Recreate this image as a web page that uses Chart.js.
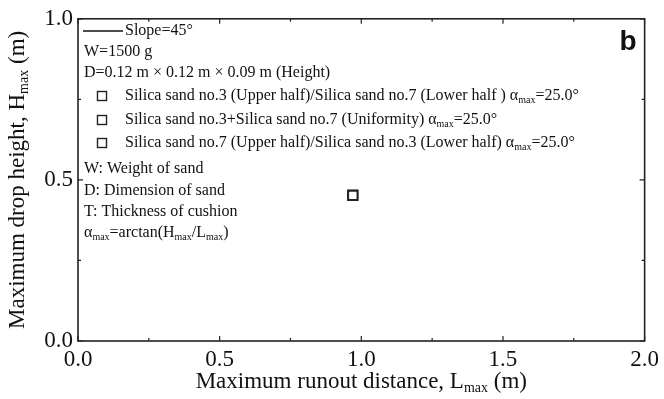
<!DOCTYPE html>
<html>
<head>
<meta charset="utf-8">
<script src="https://cdn.jsdelivr.net/npm/chart.js@4.4.1/dist/chart.umd.min.js"></script>
<style>
  html, body { margin: 0; padding: 0; background: #fff; }
  #wrap { width: 664px; height: 399px; }
</style>
</head>
<body>
<div id="wrap"><canvas id="c" width="664" height="399"></canvas></div>
<script>
// Maximum runout distance L_max (m) and maximum drop height H_max (m), one entry per sand arrangement
const runoutL = [0.97, 0.97, 0.97];
const dropH = [0.452, 0.452, 0.452];
const alphaMax = [25.0, 25.0, 25.0];
const seriesNames = [
  'Silica sand no.3 (Upper half)/Silica sand no.7 (Lower half ) ',
  'Silica sand no.3+Silica sand no.7 (Uniformity) ',
  'Silica sand no.7 (Upper half)/Silica sand no.3 (Lower half) '
];
const xTicks = [0.0, 0.5, 1.0, 1.5, 2.0];
const yTicks = [0.0, 0.5, 1.0];
const headerNotes = ['W=1500 g', 'D=0.12 m \u00d7 0.12 m \u00d7 0.09 m (Height)'];
const footerNotes = ['W: Weight of sand', 'D: Dimension of sand', 'T: Thickness of cushion'];

const SERIF = '"Liberation Serif", "Times New Roman", serif';
const INK = '#111';

function font(size) { return size + 'px ' + SERIF; }

// draws text made of normal and subscript pieces, vertically centred on y
function drawRich(ctx, segs, x, y, size, align) {
  let total = 0;
  segs.forEach(s => {
    ctx.font = font(s.sub ? Math.round(size * 0.62) : size);
    s.w = ctx.measureText(s.t).width;
    total += s.w;
  });
  let cx = align === 'center' ? x - total / 2 : x;
  ctx.textAlign = 'left';
  ctx.textBaseline = 'middle';
  segs.forEach(s => {
    ctx.font = font(s.sub ? Math.round(size * 0.62) : size);
    ctx.fillText(s.t, cx, y + (s.sub ? size * 0.28 : 0));
    cx += s.w;
  });
  return total;
}

const framePlugin = {
  id: 'frame',
  afterDraw(chart) {
    const ctx = chart.ctx;
    const a = chart.chartArea;
    const xs = chart.scales.x, ys = chart.scales.y;
    ctx.save();
    ctx.strokeStyle = '#222';
    ctx.lineWidth = 1.6;
    ctx.strokeRect(a.left, a.top, a.right - a.left, a.bottom - a.top);
    // inward ticks on all four sides
    ctx.lineWidth = 1.2;
    ctx.beginPath();
    for (let v = 0; v <= 2.0001; v += 0.25) {
      const px = xs.getPixelForValue(v);
      const len = Math.abs(v / 0.5 - Math.round(v / 0.5)) < 1e-6 ? 5 : 3;
      ctx.moveTo(px, a.bottom); ctx.lineTo(px, a.bottom - len);
      ctx.moveTo(px, a.top); ctx.lineTo(px, a.top + len);
    }
    for (let v = 0; v <= 1.0001; v += 0.25) {
      const py = ys.getPixelForValue(v);
      const len = Math.abs(v / 0.5 - Math.round(v / 0.5)) < 1e-6 ? 5 : 3;
      ctx.moveTo(a.left, py); ctx.lineTo(a.left + len, py);
      ctx.moveTo(a.right, py); ctx.lineTo(a.right - len, py);
    }
    ctx.stroke();

    ctx.fillStyle = INK;
    // axis titles
    drawRich(ctx, [{t: 'Maximum runout distance, L'}, {t: 'max', sub: true}, {t: ' (m)'}],
      (a.left + a.right) / 2, 382, 23, 'center');
    ctx.save();
    ctx.translate(18, (a.top + a.bottom) / 2);
    ctx.rotate(-Math.PI / 2);
    drawRich(ctx, [{t: 'Maximum drop height, H'}, {t: 'max', sub: true}, {t: ' (m)'}], 0, 0, 23, 'center');
    ctx.restore();

    // panel letter
    ctx.font = 'bold 28px "Liberation Sans", Arial, sans-serif';
    ctx.textAlign = 'right';
    ctx.textBaseline = 'alphabetic';
    ctx.fillText('b', a.right - 8, a.top + 31);

    // key and notes
    const fs = 16;
    const lx = a.left + 6;
    ctx.strokeStyle = INK;
    ctx.lineWidth = 1.5;
    ctx.beginPath();
    ctx.moveTo(lx - 1, 31); ctx.lineTo(lx + 39, 31);
    ctx.stroke();
    drawRich(ctx, [{t: 'Slope=45\u00b0'}], lx + 41, 31, fs, 'left');
    drawRich(ctx, [{t: headerNotes[0]}], lx, 52, fs, 'left');
    drawRich(ctx, [{t: headerNotes[1]}], lx, 73, fs, 'left');
    const rowY = [96, 120, 143];
    seriesNames.forEach((name, i) => {
      ctx.lineWidth = 1.4;
      ctx.strokeStyle = '#222';
      ctx.strokeRect(lx + 13.5, rowY[i] - 4.5, 9, 9);
      drawRich(ctx, [{t: name + '\u03b1'}, {t: 'max', sub: true}, {t: '=' + alphaMax[i].toFixed(1) + '\u00b0'}],
        lx + 41, rowY[i], fs, 'left');
    });
    const noteY = [169, 191, 212];
    footerNotes.forEach((n, i) => drawRich(ctx, [{t: n}], lx, noteY[i], fs, 'left'));
    drawRich(ctx, [{t: '\u03b1'}, {t: 'max', sub: true}, {t: '=arctan(H'}, {t: 'max', sub: true},
      {t: '/L'}, {t: 'max', sub: true}, {t: ')'}], lx, 233, fs, 'left');
    ctx.restore();
  }
};

const datasets = seriesNames.map((name, i) => ({
  label: name,
  data: [{x: runoutL[i], y: dropH[i]}],
  pointStyle: 'rect',
  pointRadius: 6.5,
  pointBorderWidth: 1.8,
  pointBackgroundColor: '#fff',
  pointBorderColor: '#222',
  showLine: false
}));

new Chart(document.getElementById('c'), {
  type: 'scatter',
  data: { datasets },
  options: {
    responsive: false,
    animation: false,
    events: [],
    layout: { padding: { top: 15, right: 16, left: 0, bottom: 0 } },
    plugins: { legend: { display: false }, tooltip: { enabled: false } },
    scales: {
      x: {
        type: 'linear', min: 0, max: 2.0,
        afterBuildTicks: s => { s.ticks = xTicks.map(v => ({value: v})); },
        afterFit: s => { s.height = 58; },
        grid: { display: false, drawTicks: false },
        border: { display: false },
        ticks: { padding: 5, color: INK, font: { family: SERIF, size: 23 }, callback: v => v.toFixed(1) }
      },
      y: {
        type: 'linear', min: 0, max: 1.0,
        afterBuildTicks: s => { s.ticks = yTicks.map(v => ({value: v})); },
        afterFit: s => { s.width = 78; },
        grid: { display: false, drawTicks: false },
        border: { display: false },
        ticks: { padding: 5, color: INK, font: { family: SERIF, size: 23 }, callback: v => v.toFixed(1) }
      }
    }
  },
  plugins: [framePlugin]
});
</script>
</body>
</html>
